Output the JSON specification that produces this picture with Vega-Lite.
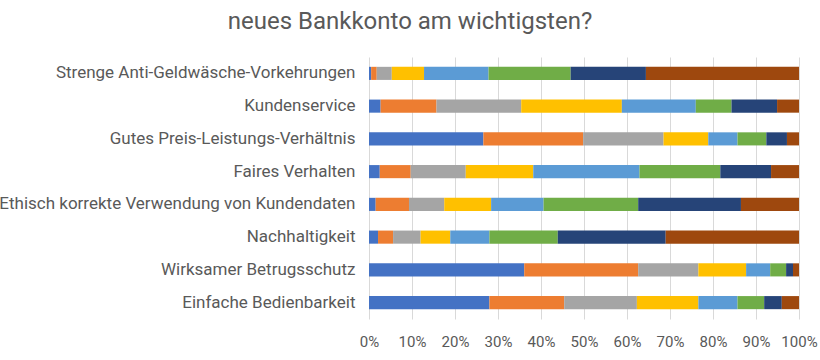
{
  "$schema": "https://vega.github.io/schema/vega-lite/v6.json",
  "autosize": {"type": "none"},
  "padding": {"left": 369, "top": 57, "right": 21, "bottom": 41},
  "width": 430,
  "height": 262,
  "background": "white",
  "title": {
    "text": "neues Bankkonto am wichtigsten?",
    "font": "Roboto",
    "fontSize": 24,
    "fontWeight": "normal",
    "color": "#595959",
    "anchor": "middle",
    "dx": -174,
    "offset": 23
  },
  "config": {
    "view": {"stroke": null},
    "font": "Roboto"
  },
  "data": {
    "values": [
      {"k": "Strenge Anti-Geldwäsche-Vorkehrungen", "s": 1, "v": 0.5},
      {"k": "Strenge Anti-Geldwäsche-Vorkehrungen", "s": 2, "v": 1.3},
      {"k": "Strenge Anti-Geldwäsche-Vorkehrungen", "s": 3, "v": 3.5},
      {"k": "Strenge Anti-Geldwäsche-Vorkehrungen", "s": 4, "v": 7.5},
      {"k": "Strenge Anti-Geldwäsche-Vorkehrungen", "s": 5, "v": 15.0},
      {"k": "Strenge Anti-Geldwäsche-Vorkehrungen", "s": 6, "v": 19.1},
      {"k": "Strenge Anti-Geldwäsche-Vorkehrungen", "s": 7, "v": 17.5},
      {"k": "Strenge Anti-Geldwäsche-Vorkehrungen", "s": 8, "v": 35.6},
      {"k": "Kundenservice", "s": 1, "v": 2.7},
      {"k": "Kundenservice", "s": 2, "v": 13.0},
      {"k": "Kundenservice", "s": 3, "v": 19.7},
      {"k": "Kundenservice", "s": 4, "v": 23.4},
      {"k": "Kundenservice", "s": 5, "v": 17.2},
      {"k": "Kundenservice", "s": 6, "v": 8.3},
      {"k": "Kundenservice", "s": 7, "v": 10.6},
      {"k": "Kundenservice", "s": 8, "v": 5.1},
      {"k": "Gutes Preis-Leistungs-Verhältnis", "s": 1, "v": 26.6},
      {"k": "Gutes Preis-Leistungs-Verhältnis", "s": 2, "v": 23.2},
      {"k": "Gutes Preis-Leistungs-Verhältnis", "s": 3, "v": 18.7},
      {"k": "Gutes Preis-Leistungs-Verhältnis", "s": 4, "v": 10.4},
      {"k": "Gutes Preis-Leistungs-Verhältnis", "s": 5, "v": 6.8},
      {"k": "Gutes Preis-Leistungs-Verhältnis", "s": 6, "v": 6.7},
      {"k": "Gutes Preis-Leistungs-Verhältnis", "s": 7, "v": 4.8},
      {"k": "Gutes Preis-Leistungs-Verhältnis", "s": 8, "v": 2.8},
      {"k": "Faires Verhalten", "s": 1, "v": 2.5},
      {"k": "Faires Verhalten", "s": 2, "v": 7.2},
      {"k": "Faires Verhalten", "s": 3, "v": 12.8},
      {"k": "Faires Verhalten", "s": 4, "v": 15.7},
      {"k": "Faires Verhalten", "s": 5, "v": 24.7},
      {"k": "Faires Verhalten", "s": 6, "v": 18.8},
      {"k": "Faires Verhalten", "s": 7, "v": 11.8},
      {"k": "Faires Verhalten", "s": 8, "v": 6.5},
      {"k": "Ethisch korrekte Verwendung von Kundendaten", "s": 1, "v": 1.55},
      {"k": "Ethisch korrekte Verwendung von Kundendaten", "s": 2, "v": 7.75},
      {"k": "Ethisch korrekte Verwendung von Kundendaten", "s": 3, "v": 8.2},
      {"k": "Ethisch korrekte Verwendung von Kundendaten", "s": 4, "v": 10.9},
      {"k": "Ethisch korrekte Verwendung von Kundendaten", "s": 5, "v": 12.2},
      {"k": "Ethisch korrekte Verwendung von Kundendaten", "s": 6, "v": 22.0},
      {"k": "Ethisch korrekte Verwendung von Kundendaten", "s": 7, "v": 23.9},
      {"k": "Ethisch korrekte Verwendung von Kundendaten", "s": 8, "v": 13.5},
      {"k": "Nachhaltigkeit", "s": 1, "v": 2.1},
      {"k": "Nachhaltigkeit", "s": 2, "v": 3.5},
      {"k": "Nachhaltigkeit", "s": 3, "v": 6.4},
      {"k": "Nachhaltigkeit", "s": 4, "v": 6.9},
      {"k": "Nachhaltigkeit", "s": 5, "v": 9.1},
      {"k": "Nachhaltigkeit", "s": 6, "v": 15.9},
      {"k": "Nachhaltigkeit", "s": 7, "v": 25.1},
      {"k": "Nachhaltigkeit", "s": 8, "v": 31.0},
      {"k": "Wirksamer Betrugsschutz", "s": 1, "v": 36.1},
      {"k": "Wirksamer Betrugsschutz", "s": 2, "v": 26.5},
      {"k": "Wirksamer Betrugsschutz", "s": 3, "v": 14.0},
      {"k": "Wirksamer Betrugsschutz", "s": 4, "v": 11.1},
      {"k": "Wirksamer Betrugsschutz", "s": 5, "v": 5.6},
      {"k": "Wirksamer Betrugsschutz", "s": 6, "v": 3.7},
      {"k": "Wirksamer Betrugsschutz", "s": 7, "v": 1.6},
      {"k": "Wirksamer Betrugsschutz", "s": 8, "v": 1.4},
      {"k": "Einfache Bedienbarkeit", "s": 1, "v": 28.0},
      {"k": "Einfache Bedienbarkeit", "s": 2, "v": 17.4},
      {"k": "Einfache Bedienbarkeit", "s": 3, "v": 16.9},
      {"k": "Einfache Bedienbarkeit", "s": 4, "v": 14.3},
      {"k": "Einfache Bedienbarkeit", "s": 5, "v": 9.1},
      {"k": "Einfache Bedienbarkeit", "s": 6, "v": 6.2},
      {"k": "Einfache Bedienbarkeit", "s": 7, "v": 4.1},
      {"k": "Einfache Bedienbarkeit", "s": 8, "v": 4.0}
    ]
  },
  "mark": {"type": "bar"},
  "encoding": {
    "y": {
      "field": "k",
      "type": "nominal",
      "sort": ["Strenge Anti-Geldwäsche-Vorkehrungen", "Kundenservice", "Gutes Preis-Leistungs-Verhältnis", "Faires Verhalten", "Ethisch korrekte Verwendung von Kundendaten", "Nachhaltigkeit", "Wirksamer Betrugsschutz", "Einfache Bedienbarkeit"],
      "scale": {"paddingInner": 0.6, "paddingOuter": 0.3},
      "axis": {
        "title": null,
        "domain": false,
        "ticks": false,
        "labelPadding": 14,
        "labelFontSize": 17,
        "labelColor": "#595959",
        "labelFont": "Roboto",
        "labelLimit": 400
      }
    },
    "x": {
      "field": "v",
      "type": "quantitative",
      "stack": "normalize",
      "scale": {"domain": [0, 1], "nice": false},
      "axis": {
        "title": null,
        "format": ".0%",
        "values": [0, 0.1, 0.2, 0.3, 0.4, 0.5, 0.6, 0.7, 0.8, 0.9, 1],
        "domain": false,
        "ticks": false,
        "grid": true,
        "gridColor": "#d9d9d9",
        "gridWidth": 1,
        "labelPadding": 15,
        "labelFontSize": 15,
        "labelColor": "#595959",
        "labelFont": "Roboto",
        "labelFlush": false
      }
    },
    "color": {
      "field": "s",
      "type": "ordinal",
      "scale": {"domain": [1, 2, 3, 4, 5, 6, 7, 8], "range": ["#4472C4", "#ED7D31", "#A5A5A5", "#FFC000", "#5B9BD5", "#70AD47", "#264478", "#9E480E"]},
      "legend": null
    },
    "order": {"field": "s", "type": "quantitative", "sort": "ascending"}
  }
}
